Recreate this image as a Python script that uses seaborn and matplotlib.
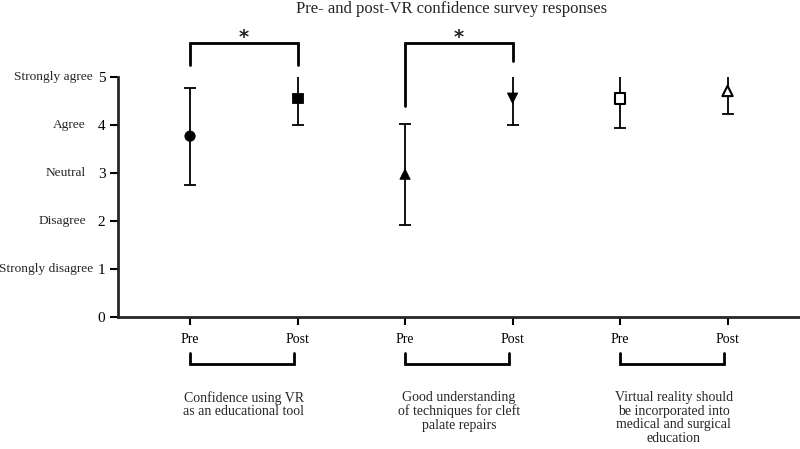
import numpy as np
import pandas as pd
import matplotlib.pyplot as plt
import matplotlib.transforms as mtransforms
import seaborn as sns

# data (mean +/- SD, 5-point Likert)
conditions = ["Pre", "Post", "Pre", "Post", "Pre", "Post"]
means = [3.77, 4.57, 2.98, 4.56, 4.55, 4.71]
sds = [1.01, 0.57, 1.05, 0.55, 0.61, 0.47]
point_ids = ["conf_pre", "conf_post", "cleft_pre", "cleft_post", "vr_pre", "vr_post"]
open_ids = ["vr_pre", "vr_post"]
group_labels = [
    "Confidence using VR\nas an educational tool",
    "Good understanding\nof techniques for cleft\npalate repairs",
    "Virtual reality should\nbe incorporated into\nmedical and surgical\neducation",
]
likert = ["Strongly disagree", "Disagree", "Neutral", "Agree", "Strongly agree"]
sig_pairs = [(0, 1), (2, 3)]

df = pd.DataFrame({"pos": np.arange(len(means)), "mean": means, "sd": sds, "id": point_ids})
marker_map = {"conf_pre": "o", "conf_post": "s", "cleft_pre": "^",
              "cleft_post": "v", "vr_pre": "s", "vr_post": "^"}

sns.set_style("ticks")
plt.rcParams["font.family"] = ["Liberation Serif", "DejaVu Serif"]

fig = plt.figure(figsize=(8, 4.49), dpi=100)
ax = fig.add_axes([0.1475, 0.293, 0.8525, 0.5355])

# error bars first, markers on top
ax.errorbar(df["pos"], df["mean"], yerr=df["sd"], fmt="none", ecolor="black",
            elinewidth=1.3, capsize=4, capthick=1.3, zorder=2)

filled = df[~df["id"].isin(open_ids)]
hollow = df[df["id"].isin(open_ids)]
sns.scatterplot(data=filled, x="pos", y="mean", style="id", markers=marker_map,
                color="black", edgecolor="black", s=55, legend=False, ax=ax, zorder=3)
sns.scatterplot(data=hollow, x="pos", y="mean", style="id", markers=marker_map,
                color="white", edgecolor="black", linewidth=1.5, s=55, legend=False,
                ax=ax, zorder=3)

ax.set_xlim(-0.67, 5.674)
ax.set_ylim(0, 5)
ax.set_xticks(df["pos"])
ax.set_xticklabels(conditions, fontsize=10)
ax.set_yticks(range(0, 6))
ax.set_yticklabels([str(v) for v in range(0, 6)], fontsize=11)
ax.set_xlabel("")
ax.set_ylabel("")
sns.despine(ax=ax)
for side in ["left", "bottom"]:
    ax.spines[side].set_linewidth(2)
ax.tick_params(axis="both", direction="out", length=6, width=1.5, color="black",
               labelcolor="black")
ax.tick_params(axis="x", pad=5)
ax.tick_params(axis="y", pad=3)

# Likert words beside the numeric y ticks
trans_y = mtransforms.blended_transform_factory(ax.transAxes, ax.transData)
for val, word in enumerate(likert, start=1):
    off = -25 if word.startswith("Strongly") else -32
    ax.annotate(word, xy=(0, val), xycoords=trans_y, xytext=(off, 0),
                textcoords="offset pixels", ha="right", va="center", fontsize=9.6)

# significance brackets above the plot
leg_tops = [(5.25, 5.25), (4.40, 5.34)]
for (a, b), (la, lb) in zip(sig_pairs, leg_tops):
    ax.plot([a, a, b, b], [la, 5.71, 5.71, lb], color="black", lw=2,
            clip_on=False, solid_joinstyle="miter")
    ax.text((a + b) / 2, 5.83, "*", ha="center", va="center", fontsize=14,
            fontweight="bold", family="DejaVu Sans", clip_on=False)

# group brackets and labels below the axis
for g, label in enumerate(group_labels):
    a, b = 2 * g, 2 * g + 0.97
    ax.plot([a, a, b, b], [-0.74, -0.96, -0.96, -0.74], color="black", lw=2,
            clip_on=False, solid_joinstyle="miter")
    ax.text((2 * g + 2 * g + 1) / 2, -1.53, label, ha="center", va="top",
            fontsize=10, linespacing=1.05, clip_on=False)

fig.text(0.565, 0.997, "Pre- and post-VR confidence survey responses",
         ha="center", va="top", fontsize=12)

fig.savefig("out.png", dpi=100)
